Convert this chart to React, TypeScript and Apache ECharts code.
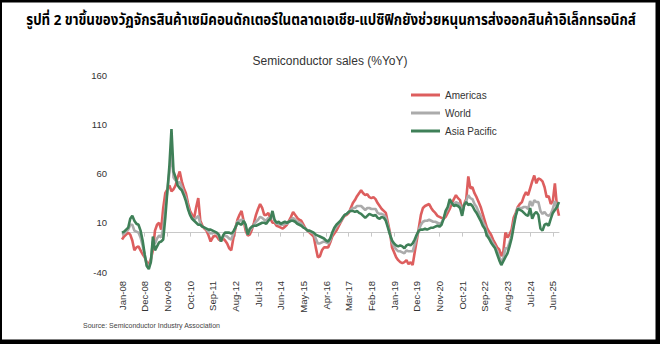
import React, { useEffect, useRef } from "react";
import * as echarts from "echarts";

const MONTHS = ["Jan", "Feb", "Mar", "Apr", "May", "Jun", "Jul", "Aug", "Sep", "Oct", "Nov", "Dec"];
const START_YEAR = 2008;
const N_POINTS = 213; // Jan-08 .. Sep-25

const categories: string[] = Array.from({ length: N_POINTS }, (_, i) => {
  const y = START_YEAR + Math.floor(i / 12);
  return `${MONTHS[i % 12]}-${String(y % 100).padStart(2, "0")}`;
});

const americas = [
  -7, -4, -2, 0, -2, -8, -18, -15, -14, -18, -22, -25, -30, -32, -27, -18, 2, 8, 10, 3,
  25, 40, 44, 48, 42, 44, 48, 56, 62, 52, 45, 40, 30, 22, 18, 15, 26, 35, 12, 7,
  4, 2, -3, -9, -5, -3, -4, -7, -8, -6, -8, -11, -16, -18, -6, 4, 13, 18, 22, 12,
  2, -3, -2, 3, 10, 18, 24, 29, 25, 18, 18, 20, 14, 10, 10, 7, 6, 5, 4, 6,
  8, 12, 16, 21, 18, 15, 13, 12, 8, 4, 2, 0, -2, -4, -15, -25, -24, -18, -15, -15,
  -15, -10, -4, -1, 2, 6, 10, 14, 17, 18, 20, 25, 30, 33, 37, 40, 43, 40, 38, 39,
  36, 35, 36, 34, 30, 27, 24, 22, 20, 10, 0, -15, -20, -25, -28, -30, -31, -30, -28, -32,
  -30, -33, -20, -8, 5, 18, 25, 27, 28, 29, 25, 22, 20, 17, 16, 15, 14, 16, 20, 24,
  30, 34, 38, 35, 33, 22, 29, 34, 57, 45, 46, 40, 36, 31, 26, 19, 12, 5, 1, -2,
  -7, -11, -15, -17, -24, -19, 0, -5, -2, 3, 15, 20, 26, 29, 31, 37, 41, 38, 45, 52,
  58, 50, 55, 54, 52, 46, 36, 37, 29, 32, 50, 27, 17,
];

const world = [
  -2, -1, 1, 3, 8, 8, 2, 1, 0, -5, -13, -23, -33, -35, -29, -9, -11, -6, -3, -5,
  4, 24, 43, 61, 83, 56, 53, 51, 51, 46, 40, 35, 26, 19, 15, 13, 15, 17, 9, 6,
  5, 3, 1, -1, 0, 0, -1, -4, -9, -4, -3, -4, -6, -7, -1, 5, 11, 12, 13, 12,
  6, -2, 2, 5, 8, 11, 13, 16, 15, 13, 12, 15, 14, 18, 12, 9, 9, 8, 8, 9,
  9, 11, 13, 15, 13, 11, 10, 9, 6, 4, 2, 1, 0, -1, -6, -11, -11, -10, -9, -10,
  -11, -8, -1, 3, 6, 9, 11, 15, 18, 19, 21, 23, 25, 25, 27, 27, 27, 25, 23, 25,
  25, 24, 24, 24, 20, 19, 19, 18, 15, 7, -1, -10, -14, -17, -19, -19, -20, -21, -18, -19,
  -19, -19, -12, -4, 3, 8, 11, 12, 12, 13, 12, 11, 11, 10, 9, 10, 14, 20, 24, 30,
  30, 29, 31, 30, 28, 19, 28, 32, 38, 35, 34, 29, 26, 21, 17, 11, 7, 0, -4, -7,
  -11, -14, -19, -24, -30, -26, -16, -16, -10, -3, 9, 18, 25, 25, 25, 26, 26, 24, 32, 27,
  33, 31, 31, 22, 19, 21, 18, 17, 19, 24, 32, 26, 26,
];

const asiaPacific = [
  0, 1, 3, 5, 14, 17, 12, 9, 8, 2, -8, -22, -34, -37, -30, -4, -18, -14, -10, -9,
  -7, 15, 42, 68, 105, 62, 56, 48, 45, 43, 38, 32, 24, 18, 14, 12, 10, 8, 8, 6,
  5, 4, 3, 3, 2, 1, 0, -2, -9, -3, 0, 0, 0, -1, 1, 5, 10, 9, 8, 12,
  8, -2, 4, 6, 7, 7, 8, 9, 10, 10, 9, 12, 14, 22, 13, 10, 11, 9, 10, 11,
  10, 11, 12, 12, 11, 9, 8, 7, 5, 4, 2, 2, 1, 0, -2, -3, -4, -5, -6, -8,
  -9, -6, 0, 5, 8, 10, 12, 15, 18, 19, 21, 22, 22, 21, 22, 20, 19, 17, 15, 17,
  19, 18, 17, 18, 15, 14, 16, 15, 12, 5, -2, -8, -11, -13, -14, -13, -14, -16, -13, -12,
  -13, -11, -7, -2, 2, 3, 3, 4, 3, 4, 5, 5, 6, 7, 6, 8, 14, 22, 26, 34,
  30, 27, 28, 27, 25, 17, 28, 31, 28, 29, 27, 23, 20, 16, 12, 7, 4, -3, -6, -10,
  -13, -16, -22, -28, -33, -29, -25, -21, -14, -6, 6, 17, 24, 23, 22, 20, 18, 17, 25, 14,
  19, 21, 18, 4, 2, 8, 9, 7, 14, 20, 23, 26, 31,
];

const Y_MIN = -40;
const Y_MAX = 160;
const Y_STEP = 50;

const TITLE = "รูปที่ 2 ขาขึ้นของวัฏจักรสินค้าเซมิคอนดักเตอร์ในตลาดเอเชีย-แปซิฟิกยังช่วยหนุนการส่งออกสินค้าอิเล็กทรอนิกส์";
const SUBTITLE = "Semiconductor sales (%YoY)";
const SOURCE = "Source: Semiconductor Industry Association";

const RED = "#DD5E5E";
const GRAY = "#ABABAB";
const GREEN = "#3F8058";

export default function App() {
  const ref = useRef<HTMLDivElement>(null);
  useEffect(() => {
    if (!ref.current) return;
    const chart = echarts.init(ref.current, undefined, { renderer: "svg" });
    const font = "'Liberation Sans', Arial, sans-serif";
    chart.setOption({
      animation: false,
      backgroundColor: "#ffffff",
      textStyle: { fontFamily: font },
      title: [
        {
          text: SUBTITLE,
          left: "center",
          top: 50,
          textStyle: { fontSize: 12, fontWeight: "normal", color: "#333", fontFamily: font },
        },
      ],
      legend: {
        orient: "vertical",
        left: 406,
        top: 85,
        itemWidth: 29,
        itemHeight: 3,
        itemGap: 8,
        icon: "rect",
        data: ["Americas", "World", "Asia Pacific"],
        textStyle: { fontSize: 10, color: "#333", fontFamily: font },
      },
      grid: { left: 122, right: 101, top: 75, bottom: 72 },
      xAxis: [
        {
          type: "category",
          data: categories,
          boundaryGap: false,
          position: "bottom",
          axisLine: { show: false, onZero: false },
          axisTick: { show: false },
          axisLabel: {
            interval: 10,
            rotate: 90,
            fontSize: 9.5,
            color: "#333",
            margin: 9,
            fontFamily: font,
          },
        },
        {
          type: "category",
          data: categories,
          boundaryGap: false,
          position: "bottom",
          axisLine: { show: true, onZero: true, lineStyle: { color: "#c8c8c8", width: 1 } },
          axisTick: { show: true, interval: 10, length: 4, lineStyle: { color: "#c8c8c8" } },
          axisLabel: { show: false },
        },
      ],
      yAxis: {
        type: "value",
        min: Y_MIN,
        max: Y_MAX,
        interval: Y_STEP,
        axisLine: { show: false },
        axisTick: { show: false },
        splitLine: { show: false },
        axisLabel: { fontSize: 9.5, color: "#333", margin: 15, fontFamily: font },
      },
      series: [
        {
          name: "Americas",
          type: "line",
          data: americas,
          showSymbol: false,
          symbol: "none",
          lineStyle: { color: RED, width: 2.6 },
          itemStyle: { color: RED },
        },
        {
          name: "World",
          type: "line",
          data: world,
          showSymbol: false,
          symbol: "none",
          lineStyle: { color: GRAY, width: 2.6 },
          itemStyle: { color: GRAY },
        },
        {
          name: "Asia Pacific",
          type: "line",
          data: asiaPacific,
          showSymbol: false,
          symbol: "none",
          lineStyle: { color: GREEN, width: 2.6 },
          itemStyle: { color: GREEN },
        },
      ],
      graphic: [
        {
          type: "text",
          x: 331,
          y: 20,
          scaleX: 0.89,
          style: {
            text: TITLE,
            fontSize: 15,
            fontWeight: "bold",
            fill: "#000",
            textAlign: "center",
            textVerticalAlign: "middle",
            fontFamily: "'Noto Sans Thai', 'Noto Sans Thai Looped', Tahoma, 'DejaVu Sans', sans-serif",
          },
        },
        {
          type: "text",
          left: 83,
          top: 322,
          style: {
            text: SOURCE,
            fontSize: 7,
            fill: "#444",
            fontFamily: "'Liberation Sans Narrow', 'Arial Narrow', 'Liberation Sans', sans-serif",
          },
        },
        { type: "rect", shape: { x: 0, y: 0, width: 660, height: 2.5 }, style: { fill: "#000" } },
        { type: "rect", shape: { x: 0, y: 0, width: 2, height: 344 }, style: { fill: "#000" } },
        { type: "rect", shape: { x: 655.5, y: 0, width: 4.5, height: 344 }, style: { fill: "#000" } },
        { type: "rect", shape: { x: 0, y: 339.5, width: 660, height: 4.5 }, style: { fill: "#000" } },
      ],
    });
    return () => chart.dispose();
  }, []);
  return (
    <div
      ref={ref}
      style={{ position: "fixed", left: 0, top: 0, width: 660, height: 344 }}
    />
  );
}
